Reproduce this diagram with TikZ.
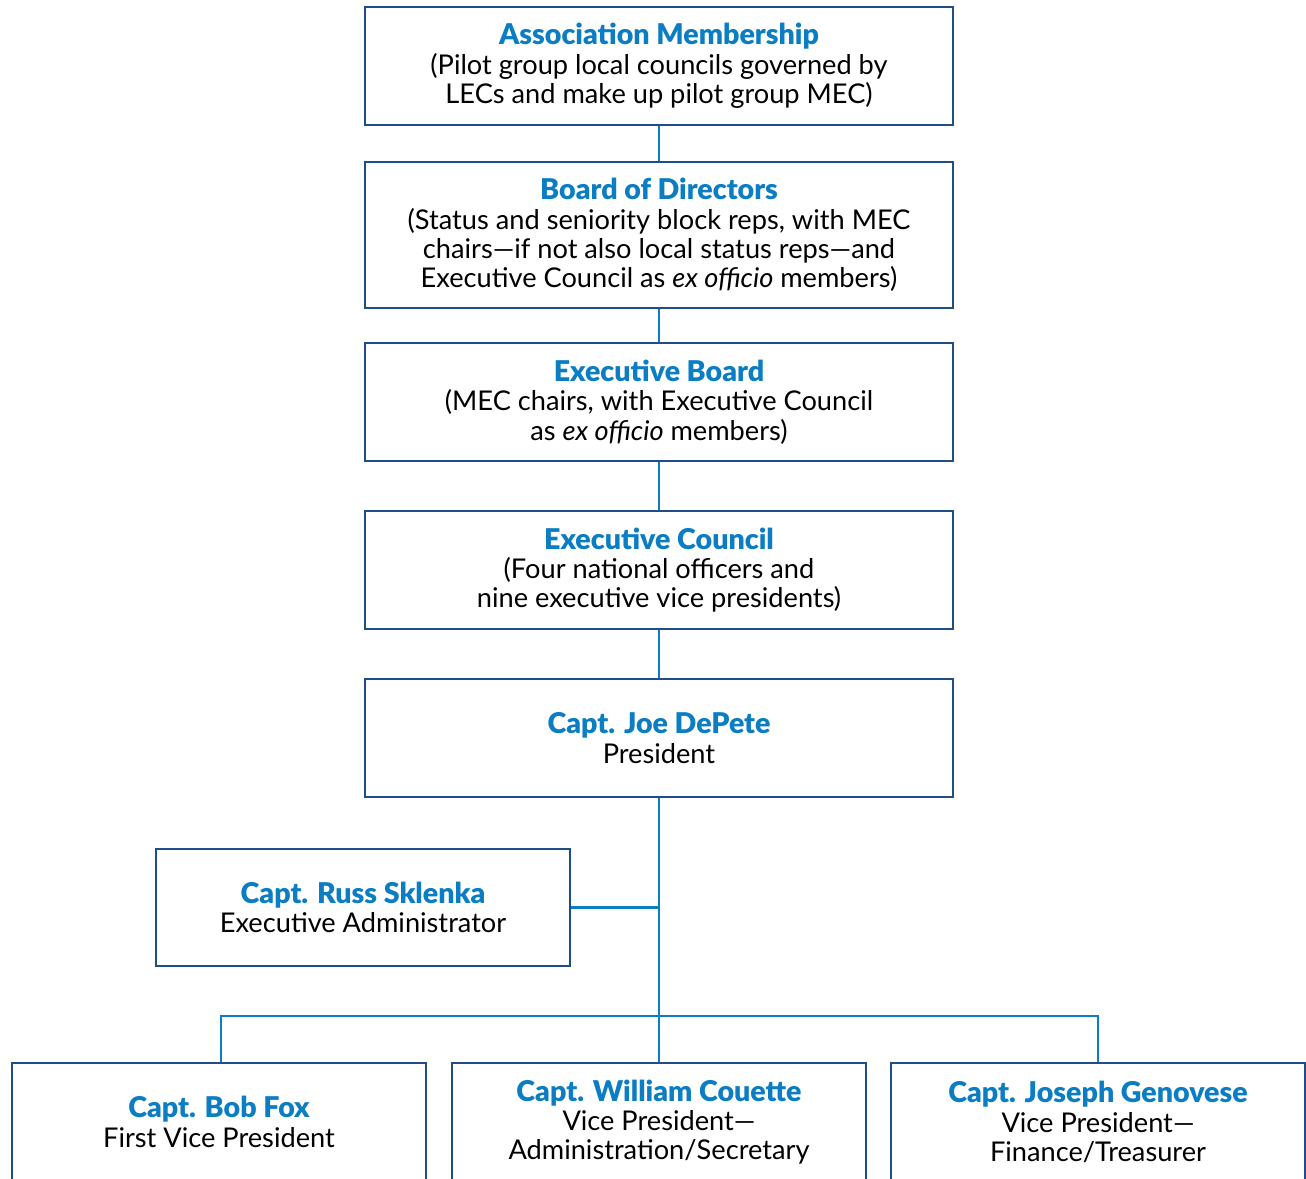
\documentclass[tikz,border=0pt]{standalone}
\usepackage{fontspec}
\setmainfont{Lato}[BoldFont={Lato Black}]
\definecolor{boxline}{HTML}{1F4E86}
\definecolor{linkline}{HTML}{0C7CC4}
\definecolor{headblue}{HTML}{0B7DC3}
\tikzset{
  orgbox/.style={draw=boxline, line width=2.6pt, fill=white, inner sep=0pt,
    align=center, font=\fontsize{27.2}{29.3}\selectfont, text=black},
  link/.style={draw=linkline, line width=2.6pt},
}
\newcommand{\hd}[1]{{\color{headblue}\fontsize{28.6}{29.3}\selectfont\bfseries #1}}
\begin{document}
\begin{tikzpicture}[x=1pt,y=-1pt]
\useasboundingbox (0,0) rectangle (1306,1178);
\clip (0,0) rectangle (1306,1178);
\fill[white] (0,0) rectangle (1306,1178);

% chain of governing bodies
\node[orgbox, minimum width=588, minimum height=118] (assoc) at (659,66)
  {\hd{Association Membership}\\(Pilot group local councils governed by\\LECs and make up pilot group MEC)};
\node[orgbox, minimum width=588, minimum height=146] (board) at (659,235)
  {\hd{Board of Directors}\\(Status and seniority block reps, with MEC\\chairs—if not also local status reps—and\\Executive Council as \textit{ex officio} members)};
\node[orgbox, minimum width=588, minimum height=118] (eboard) at (659,402)
  {\hd{Executive Board}\\(MEC chairs, with Executive Council\\as \textit{ex officio} members)};
\node[orgbox, minimum width=588, minimum height=118] (ecouncil) at (659,570)
  {\hd{Executive Council}\\(Four national officers and\\nine executive vice presidents)};
\node[orgbox, minimum width=588, minimum height=118] (pres) at (659,738)
  {\hd{Capt. Joe DePete}\\President};

% staff and officers
\node[orgbox, minimum width=414, minimum height=117] (admin) at (363,907.5)
  {\hd{Capt. Russ Sklenka}\\Executive Administrator};
\node[orgbox, minimum width=414, minimum height=118] (fox) at (219,1122)
  {\hd{Capt. Bob Fox}\\First Vice President};
\node[orgbox, minimum width=414, minimum height=118] (couette) at (659,1122)
  {\hd{Capt. William Couette}\\Vice President—\\Administration/Secretary};
\node[orgbox, minimum width=414, minimum height=118] (genovese) at (1098,1122)
  {\hd{Capt. Joseph Genovese}\\Vice President—\\Finance/Treasurer};

% connectors
\coordinate (bus) at (659,1016);
\draw[link] (assoc.south) -- (board.north);
\draw[link] (board.south) -- (eboard.north);
\draw[link] (eboard.south) -- (ecouncil.north);
\draw[link] (ecouncil.south) -- (pres.north);
\draw[link] (pres.south) -- (couette.north);
\draw[link] (admin.east) -- (admin.east -| pres.south);
\draw[link] (fox.north -| 221,0) |- (bus) -| (genovese.north);
\end{tikzpicture}
\end{document}
